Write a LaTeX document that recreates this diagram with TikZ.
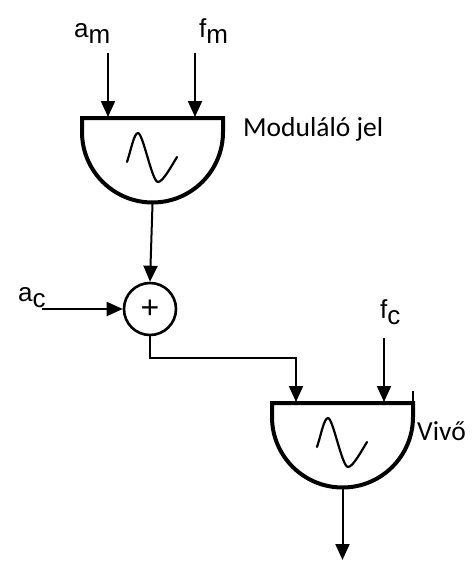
\documentclass[tikz,border=0pt]{standalone}
\usepackage{fontspec}
\setmainfont{Liberation Sans}
\newfontfamily\calib{Carlito}
\usetikzlibrary{arrows.meta}
\begin{document}
\begin{tikzpicture}[x=1pt,y=-1pt,
  arr/.style={-{Triangle[length=16pt,width=14pt]}, line width=2pt},
  blk/.style={line width=4pt, line join=miter},
  wave/.style={line width=2.2pt, line cap=round},
  lbl/.style={anchor=base west, inner sep=0pt, font=\fontsize{26}{28}\selectfont},
  caption/.style={anchor=base west, inner sep=0pt, font=\calib\fontsize{27.5}{30}\selectfont}]
\useasboundingbox (0,0) rectangle (472,563);
% modulating oscillator block
\draw[blk] (82,118) -- (223,118) -- (223,132) arc[start angle=0, end angle=180, radius=70.5] -- cycle;
\draw[wave] (127,162) .. controls (131,150) and (134,133) .. (138,133)
  .. controls (143,133) and (152,182) .. (158,182)
  .. controls (163,182) and (172,165) .. (177,157);
% carrier oscillator block
\begin{scope}[shift={(190,285)}]
\draw[blk] (82,118) -- (223,118) -- (223,132) arc[start angle=0, end angle=180, radius=70.5] -- cycle;
\draw[line width=2.4pt] (223,118) -- (223,106);
\draw[wave] (127,162) .. controls (131,150) and (134,133) .. (138,133)
  .. controls (143,133) and (152,182) .. (158,182)
  .. controls (163,182) and (172,165) .. (177,157);
\end{scope}
% named points
\coordinate (amS) at (108,53);
\coordinate (amE) at (108,117);
\coordinate (fmS) at (195,53);
\coordinate (fmE) at (195,117);
\coordinate (modOut) at (152.5,204);
\coordinate (acS) at (42,309);
\coordinate (bend) at (296,358);
\coordinate (carInA) at (296,402);
\coordinate (fcS) at (384,338);
\coordinate (fcE) at (384,402);
\coordinate (carOut) at (342.5,489);
\coordinate (outE) at (342.5,560);
\node[circle, draw, line width=2.6pt, minimum size=52pt, inner sep=0pt, font=\fontsize{32}{34}\selectfont] (sum) at (150,309) {+};
% labels
\node[lbl] (am) at (74,37) {a\raisebox{-6pt}{m}};
\node[lbl] (fm) at (199,37) {f\raisebox{-6pt}{m}};
\node[lbl] (ac) at (18,301) {a\raisebox{-6pt}{c}};
\node[lbl] (fc) at (380,318) {f\raisebox{-6pt}{c}};
\node[caption] (modl) at (243,136) {Moduláló jel};
\node[caption] (carl) at (417,440) {Vivő};
% connectors
\draw[arr] (amS) -- (amE);
\draw[arr] (fmS) -- (fmE);
\draw[arr] (modOut) -- (sum.north);
\draw[arr] (acS) -- (sum.west);
\draw[arr] (sum.south) |- (bend) -- (carInA);
\draw[arr] (fcS) -- (fcE);
\draw[arr] (carOut) -- (outE);
\end{tikzpicture}
\end{document}
